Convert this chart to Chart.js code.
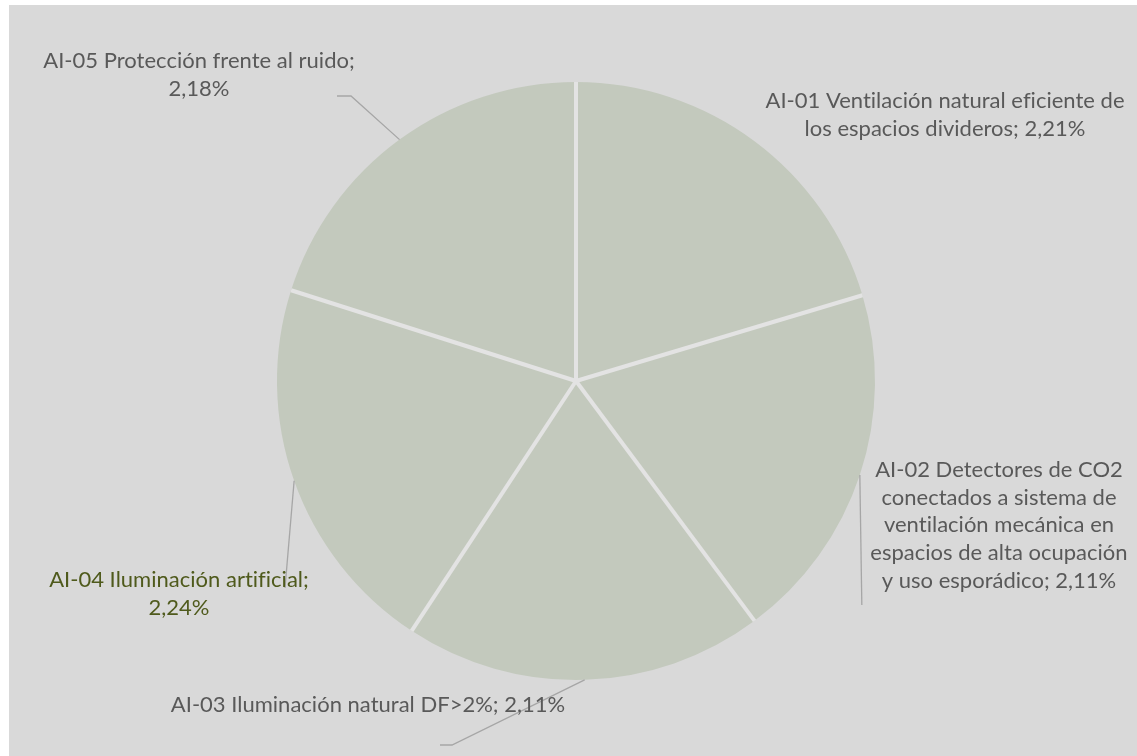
<!DOCTYPE html>
<html>
<head>
<meta charset="utf-8">
<script src="https://cdn.jsdelivr.net/npm/chart.js@4/dist/chart.umd.min.js"></script>
<style>
  html, body { margin: 0; padding: 0; background: #ffffff; }
  #wrap {
    position: absolute; left: 9px; top: 5px;
    width: 1128px; height: 751px;
    background: #d9d9d9;
  }
  canvas { display: block; }
</style>
</head>
<body>
<div id="wrap"><canvas id="pie" width="1128" height="751"></canvas></div>
<script>
// indicadores y su peso en %
const categories = [
  "AI-01 Ventilación natural eficiente de los espacios divideros",
  "AI-02 Detectores de CO2 conectados a sistema de ventilación mecánica en espacios de alta ocupación y uso esporádico",
  "AI-03 Iluminación natural DF>2%",
  "AI-04 Iluminación artificial",
  "AI-05 Protección frente al ruido"
];
const values = [2.21, 2.11, 2.11, 2.24, 2.18];

// texto de etiqueta partido en lineas (el valor se añade al final)
const labelLines = [
  ["AI-01 Ventilación natural eficiente de", "los espacios divideros;"],
  ["AI-02 Detectores de CO2", "conectados a sistema de", "ventilación mecánica en", "espacios de alta ocupación", "y uso esporádico;"],
  ["AI-03 Iluminación natural DF>2%;"],
  ["AI-04 Iluminación artificial;"],
  ["AI-05 Protección frente al ruido;"]
];
const valueOnOwnLine = [false, false, false, true, true];

// colocacion de etiquetas y lineas guia
const labelLayout = [
  { x: 936, y: 96, leader: [] },
  { x: 990, y: 465, leader: [[853, 600]] },
  { x: 359, y: 700, leader: [[443, 740], [431, 740]] },
  { x: 170, y: 575, leader: [[276, 583]], color: "#4f5a1c" },
  { x: 190, y: 56, leader: [[342, 91], [328, 91]] }
];

const fmt = v => v.toFixed(2).replace(".", ",") + "%";

// separadores claros entre sectores, sin contorno exterior
const separators = {
  id: "separators",
  afterDatasetsDraw(chart) {
    const ctx = chart.ctx;
    ctx.save();
    ctx.strokeStyle = "#e3e3e3";
    ctx.lineWidth = 4;
    chart.getDatasetMeta(0).data.forEach(arc => {
      ctx.beginPath();
      ctx.moveTo(arc.x, arc.y);
      ctx.lineTo(arc.x + Math.cos(arc.startAngle) * arc.outerRadius,
                 arc.y + Math.sin(arc.startAngle) * arc.outerRadius);
      ctx.stroke();
    });
    ctx.restore();
  }
};

const pieLabels = {
  id: "pieLabels",
  afterDraw(chart) {
    const ctx = chart.ctx;
    const arcs = chart.getDatasetMeta(0).data;
    ctx.save();
    ctx.font = "22px Lato";
    ctx.letterSpacing = "0.01px";
    ctx.textAlign = "center";
    ctx.textBaseline = "middle";
    arcs.forEach((arc, i) => {
      const lay = labelLayout[i];
      // linea guia desde el borde del sector
      if (lay.leader.length) {
        const mid = (arc.startAngle + arc.endAngle) / 2;
        const r = arc.outerRadius;
        ctx.beginPath();
        ctx.moveTo(arc.x + Math.cos(mid) * r, arc.y + Math.sin(mid) * r);
        lay.leader.forEach(p => {
          // la guia vertical de AI-02 sigue la x del sector
          const px = i === 1 ? arc.x + Math.cos(mid) * r + 2 : p[0];
          ctx.lineTo(px, p[1]);
        });
        ctx.strokeStyle = "#a6a6a6";
        ctx.lineWidth = 1.3;
        ctx.stroke();
      }
      const lines = labelLines[i].slice();
      if (valueOnOwnLine[i]) lines.push(fmt(values[i]));
      else lines[lines.length - 1] += " " + fmt(values[i]);
      ctx.fillStyle = lay.color || "#595959";
      lines.forEach((t, k) => ctx.fillText(t, lay.x, lay.y + k * 27.7));
    });
    ctx.restore();
  }
};

new Chart(document.getElementById("pie").getContext("2d"), {
  type: "pie",
  data: {
    labels: categories,
    datasets: [{
      data: values,
      backgroundColor: "#c3c9bd",
      borderWidth: 0
    }]
  },
  options: {
    responsive: false,
    animation: false,
    layout: { padding: { left: 268, right: 262, top: 77, bottom: 76 } },
    plugins: {
      legend: { display: false },
      tooltip: { enabled: false }
    }
  },
  plugins: [separators, pieLabels]
});
</script>
</body>
</html>
